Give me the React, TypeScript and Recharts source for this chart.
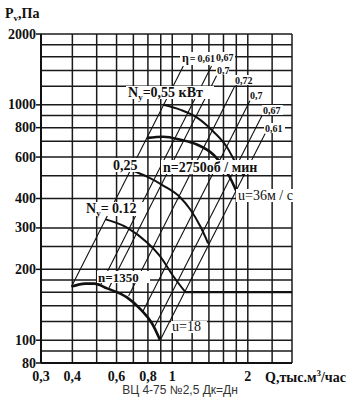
import React from 'react';
import { LineChart, Line, XAxis, YAxis, CartesianGrid } from 'recharts';

// grid positions (log axes)
const xGrid = [0.3, 0.4, 0.5, 0.6, 0.7, 0.8, 0.9, 1, 1.2, 1.4, 1.6, 1.8, 2, 2.5, 3];
const yGrid = [80, 90, 100, 120, 140, 160, 180, 200, 250, 300, 400, 500, 600, 700, 800, 900, 1000, 1200, 1400, 1600, 1800, 2000];
const xLabelVals = [0.3, 0.4, 0.6, 0.8, 1, 2];
const xLabelText = ['0,3', '0,4', '0,6', '0,8', '1', '2'];
const yLabelVals = [80, 100, 200, 300, 400, 600, 800, 1000, 2000];

// P(Q) curves at n = 1350 and n = 2750 rpm  [Q thousand m3/h, P Pa]
const n1350 = [[0.397, 169], [0.45, 174], [0.49, 174], [0.55, 166], [0.66, 152], [0.75, 135], [0.83, 118], [0.895, 100]];
const n2750 = [[0.795, 724], [0.92, 732], [1.08, 711], [1.26, 677], [1.46, 614], [1.6, 546], [1.7, 490], [1.8, 430]];

// power curves Ny
const ny055 = [[0.92, 1000], [1.08, 952], [1.26, 881], [1.46, 769], [1.66, 656], [1.8, 560], [1.93, 500]];
const ny025 = [[0.683, 530], [0.794, 495], [0.92, 454], [1.077, 404], [1.18, 359], [1.295, 304], [1.39, 258]];
const ny012 = [[0.543, 326], [0.66, 301], [0.794, 260], [0.895, 227], [1.01, 187], [1.128, 160]];

// efficiency lines (left to right)
const etaLines = [
  [[0.397, 169], [1.107, 1464]], // 0,61
  [[0.52, 173], [1.434, 1464]], // 0,67
  [[0.56, 167], [1.502, 1330]], // 0,7
  [[0.67, 154], [1.775, 1203]], // 0,72
  [[0.765, 133], [2.04, 1040]], // 0,7
  [[0.85, 114], [2.277, 898]], // 0,67
  [[0.895, 100], [2.343, 753]], // 0,61
];

const bold160 = [[1.128, 160], [3, 160]];

const toPts = (arr: number[][]) => arr.map(([q, p]) => ({ q, p }));

const serif = '"Liberation Serif", "DejaVu Serif", serif';

const XTick = (props: any) => {
  const { x, payload } = props;
  const i = xLabelVals.indexOf(payload.value);
  if (i < 0) return null;
  return (
    <text x={x} y={381} textAnchor="middle" fontFamily={serif} fontWeight="bold" fontSize={14} fill="#111">
      {xLabelText[i]}
    </text>
  );
};

const YTick = (props: any) => {
  const { y, payload } = props;
  if (yLabelVals.indexOf(payload.value) < 0) return null;
  return (
    <g>
      <line x1={36} x2={41} y1={y} y2={y} stroke="#111" strokeWidth={1.5} />
      <text x={36} y={y + 4.5} textAnchor="end" fontFamily={serif} fontWeight="bold" fontSize={14} fill="#111">
        {payload.value}
      </text>
    </g>
  );
};

const Box = ({ x, y, w, h }: any) => <rect x={x} y={y} width={w} height={h} fill="#fff" />;

const Labels = () => (
  <svg width={360} height={410} style={{ position: 'absolute', left: 0, top: 0, pointerEvents: 'none' }}>
    <g fontFamily={serif} fontWeight="bold" fill="#111">
      <text x={5} y={18} fontSize={14}>
        P<tspan fontSize={9} dy={3}>v</tspan>
        <tspan dy={-3}>,Па</tspan>
      </text>

      <Box x={126} y={86} w={88} h={13} />
      <text x={128} y={97} fontSize={14}>
        N<tspan fontSize={9} dy={3}>y</tspan>
        <tspan dy={-3}>=0,55 кВт</tspan>
      </text>

      <Box x={111} y={158} w={34} h={14} />
      <text x={113} y={170} fontSize={14}>0,25</text>

      <Box x={161} y={160} w={104} h={14} />
      <text x={163} y={172} fontSize={14}>n=2750об / мин</text>

      <Box x={236} y={189} w={68} h={13} />
      <text x={238} y={200} fontSize={14} fontWeight="normal">u=36м / с</text>

      <Box x={84} y={202} w={61} h={14} />
      <text x={86} y={213} fontSize={14}>
        N<tspan fontSize={9} dy={3}>y</tspan>
        <tspan dy={-3}>= 0.12</tspan>
      </text>

      <Box x={97} y={271} w={53} h={12} />
      <text x={98} y={282} fontSize={13}>n=1350</text>

      <Box x={171} y={321} w={36} h={12} />
      <text x={172} y={331} fontSize={14} fontWeight="normal">u=18</text>

      <Box x={180} y={52} w={55} h={13} />
      <Box x={216} y={65} w={13} h={10} />
      <Box x={234} y={75} w={22} h={10} />
      <Box x={249} y={90} w={13} h={10} />
      <Box x={262} y={105} w={21} h={10} />
      <Box x={264} y={123} w={21} h={10} />
      <g fontSize={10}>
        <text x={182} y={62}>
          <tspan fontSize={12}>η</tspan>
          <tspan dx={1}>=</tspan>
          <tspan dx={2}>0,61</tspan>
        </text>
        <text x={216} y={61}>0,67</text>
        <text x={217} y={74}>0,7</text>
        <text x={235} y={84}>0,72</text>
        <text x={250} y={99}>0,7</text>
        <text x={263} y={114}>0,67</text>
        <text x={265} y={132}>0,61</text>
      </g>

      <text x={265} y={382} fontSize={14}>
        Q,тыс.м<tspan fontSize={9} dy={-6}>3</tspan>
        <tspan dy={6}>/час</tspan>
      </text>
    </g>
    <text x={180} y={394} textAnchor="middle" fontFamily='"Liberation Sans", Arial, sans-serif' fontSize={12} fill="#333">
      ВЦ 4-75 №2,5 Дк=Дн
    </text>
  </svg>
);

export default function App() {
  const curves = [
    ...etaLines.map((seg) => ({ pts: seg, w: 1.1, t: 'linear' })),
    { pts: bold160, w: 2.2, t: 'linear' },
    { pts: ny055, w: 2, t: 'monotone' },
    { pts: ny025, w: 2, t: 'monotone' },
    { pts: ny012, w: 2, t: 'monotone' },
    { pts: n2750, w: 2.6, t: 'monotone' },
    { pts: n1350, w: 2.6, t: 'monotone' },
  ];
  return (
    <div style={{ position: 'absolute', left: 0, top: 0, width: 360, height: 410, background: '#fff' }}>
      <LineChart width={360} height={410} margin={{ top: 34, right: 68, bottom: 17, left: 0 }}>
        <CartesianGrid stroke="#1a1a1a" strokeWidth={1.5} />
        <XAxis
          type="number"
          dataKey="q"
          scale="log"
          domain={[0.3, 3]}
          ticks={xGrid}
          interval={0}
          allowDataOverflow
          height={30}
          axisLine={{ stroke: '#111', strokeWidth: 2 }}
          tickLine={false}
          tick={<XTick />}
        />
        <YAxis
          type="number"
          dataKey="p"
          scale="log"
          domain={[80, 2000]}
          ticks={yGrid}
          interval={0}
          allowDataOverflow
          width={41}
          axisLine={{ stroke: '#111', strokeWidth: 2 }}
          tickLine={false}
          tick={<YTick />}
        />
        {curves.map((c, i) => (
          <Line
            key={'curve' + i}
            data={toPts(c.pts)}
            dataKey="p"
            type={c.t as any}
            stroke="#111"
            strokeWidth={c.w}
            dot={false}
            activeDot={false}
            isAnimationActive={false}
          />
        ))}
      </LineChart>
      <Labels />
    </div>
  );
}
